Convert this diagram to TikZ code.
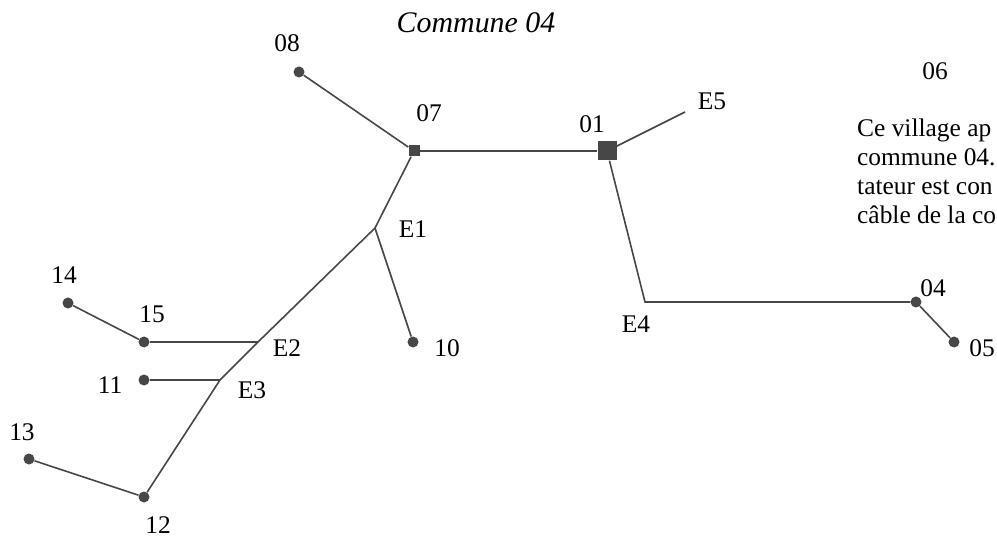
\documentclass[tikz,border=0pt]{standalone}
\usepackage{fontspec}
\setmainfont{Liberation Serif}
\definecolor{ink}{HTML}{474747}
\begin{document}
\begin{tikzpicture}[x=1bp,y=-1bp,
  dot/.style={circle,fill=ink,inner sep=0pt,minimum size=11bp},
  sq/.style={rectangle,fill=ink,inner sep=0pt},
  lbl/.style={anchor=base,inner sep=0pt,font=\fontsize{25.5}{29}\selectfont},
  para/.style={anchor=base west,inner sep=0pt,font=\fontsize{25.5}{29}\selectfont},
  wire/.style={draw=ink,line width=1.6bp,line join=miter}]
\clip (0,0) rectangle (997,539);
% nodes
\node[dot] (n08) at (299,72) {};
\node[sq,minimum size=11bp] (n07) at (414,151) {};
\node[sq,minimum size=19bp] (n01) at (607,151) {};
\coordinate (e5) at (685,112);
\coordinate (e1) at (375,228);
\node[dot] (n10) at (413,342) {};
\coordinate (e4) at (645,302);
\node[dot] (n04) at (916,302) {};
\node[dot] (n05) at (954,342) {};
\coordinate (e2) at (258,342);
\node[dot] (n15) at (144,342) {};
\node[dot] (n14) at (68,303) {};
\coordinate (e3) at (220,380);
\node[dot] (n11) at (144,380) {};
\node[dot] (n12) at (144,497) {};
\node[dot] (n13) at (29,459) {};
% connectors
\draw[wire] (n08) -- (n07);
\draw[wire] (n07) -- (n01);
\draw[wire] (n01) -- (e5);
\draw[wire] (n07) -- (e1) -- (e2) -- (e3) -- (n12);
\draw[wire] (e1) -- (n10);
\draw[wire] (n01) -- (e4) -- (n04);
\draw[wire] (n04) -- (n05);
\draw[wire] (e2) -- (n15);
\draw[wire] (n15) -- (n14);
\draw[wire] (e3) -- (n11);
\draw[wire] (n12) -- (n13);
% labels
\node[lbl,font=\fontsize{30}{34}\selectfont\itshape] (title) at (476,33) {Commune 04};
\node[lbl] (l08) at (287,52) {08};
\node[lbl] (l07) at (429,122) {07};
\node[lbl] (l01) at (592,133) {01};
\node[lbl] (lE5) at (712,110) {E5};
\node[lbl] (l06) at (935,80) {06};
\node[lbl] (lE1) at (413,238) {E1};
\node[lbl] (l10) at (447,357) {10};
\node[lbl] (lE4) at (636,333) {E4};
\node[lbl] (l04) at (933,297) {04};
\node[lbl] (l05) at (982,357) {05};
\node[lbl] (lE2) at (287,357) {E2};
\node[lbl] (l15) at (152,323) {15};
\node[lbl] (l14) at (64,284) {14};
\node[lbl] (l11) at (110,393) {11};
\node[lbl] (lE3) at (252,398) {E3};
\node[lbl] (l13) at (22,440) {13};
\node[lbl] (l12) at (158,533) {12};
% paragraph (cut by the right edge)
\node[para] (p1) at (857,137) {Ce village ap};
\node[para] (p2) at (857,166) {commune 04.};
\node[para] (p3) at (857,195) {tateur est con};
\node[para] (p4) at (857,224) {câble de la co};
\end{tikzpicture}
\end{document}
